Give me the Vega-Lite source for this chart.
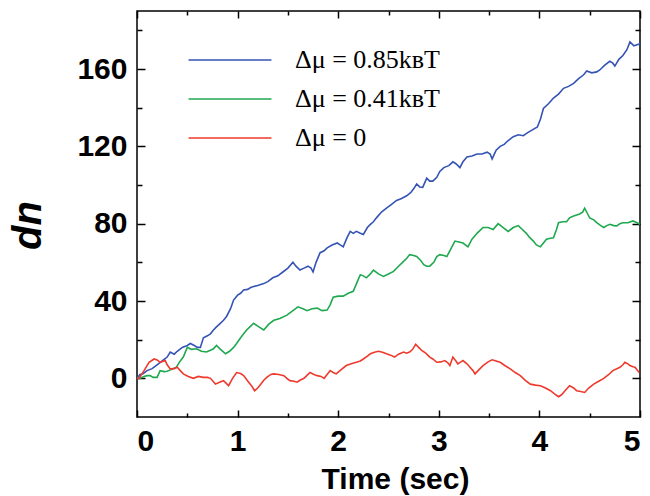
{
"$schema": "https://vega.github.io/schema/vega-lite/v6.json",
"width": 503, "height": 406,
"autosize": {"type": "none"},
"padding": {"left": 137, "top": 11, "right": 10, "bottom": 79},
"background": "white",
"config": {
  "view": {"stroke": "black", "strokeWidth": 1.5},
  "axis": {"domain": false, "grid": false, "tickColor": "black", "tickWidth": 1.5,
    "labelFont": "Liberation Sans", "labelFontWeight": "bold", "labelFontSize": 30, "labelColor": "black",
    "titleFont": "Liberation Sans", "titleFontWeight": "bold", "titleColor": "black"}
},
"data": {"values": [
{"s":"0.85","t":0,"dn":0},{"s":"0.85","t":0.03,"dn":2},{"s":"0.85","t":0.06,"dn":2.4},{"s":"0.85","t":0.1,"dn":4},{"s":"0.85","t":0.15,"dn":5},{"s":"0.85","t":0.2,"dn":7},{"s":"0.85","t":0.25,"dn":9},{"s":"0.85","t":0.3,"dn":11},{"s":"0.85","t":0.33,"dn":13.6},{"s":"0.85","t":0.37,"dn":12.5},{"s":"0.85","t":0.4,"dn":14},{"s":"0.85","t":0.45,"dn":16},{"s":"0.85","t":0.5,"dn":17},{"s":"0.85","t":0.53,"dn":18},{"s":"0.85","t":0.57,"dn":17},{"s":"0.85","t":0.6,"dn":16},{"s":"0.85","t":0.63,"dn":16},{"s":"0.85","t":0.66,"dn":21},{"s":"0.85","t":0.7,"dn":22},{"s":"0.85","t":0.73,"dn":23},{"s":"0.85","t":0.76,"dn":25},{"s":"0.85","t":0.79,"dn":26.6},{"s":"0.85","t":0.82,"dn":28},{"s":"0.85","t":0.86,"dn":30},{"s":"0.85","t":0.89,"dn":32},{"s":"0.85","t":0.93,"dn":36},{"s":"0.85","t":0.96,"dn":40.5},{"s":"0.85","t":1.0,"dn":43},{"s":"0.85","t":1.03,"dn":44},{"s":"0.85","t":1.06,"dn":45.7},{"s":"0.85","t":1.1,"dn":46},{"s":"0.85","t":1.13,"dn":47},{"s":"0.85","t":1.16,"dn":47.5},{"s":"0.85","t":1.2,"dn":48},{"s":"0.85","t":1.23,"dn":48.5},{"s":"0.85","t":1.26,"dn":49},{"s":"0.85","t":1.3,"dn":50},{"s":"0.85","t":1.35,"dn":52},{"s":"0.85","t":1.4,"dn":53},{"s":"0.85","t":1.45,"dn":55},{"s":"0.85","t":1.5,"dn":57},{"s":"0.85","t":1.55,"dn":60},{"s":"0.85","t":1.58,"dn":58},{"s":"0.85","t":1.62,"dn":56},{"s":"0.85","t":1.66,"dn":57},{"s":"0.85","t":1.7,"dn":58},{"s":"0.85","t":1.73,"dn":57},{"s":"0.85","t":1.75,"dn":55},{"s":"0.85","t":1.78,"dn":60},{"s":"0.85","t":1.82,"dn":65},{"s":"0.85","t":1.86,"dn":66},{"s":"0.85","t":1.89,"dn":67.5},{"s":"0.85","t":1.94,"dn":69},{"s":"0.85","t":1.99,"dn":70},{"s":"0.85","t":2.02,"dn":69},{"s":"0.85","t":2.05,"dn":68},{"s":"0.85","t":2.09,"dn":73},{"s":"0.85","t":2.12,"dn":76},{"s":"0.85","t":2.15,"dn":75},{"s":"0.85","t":2.18,"dn":76},{"s":"0.85","t":2.22,"dn":75},{"s":"0.85","t":2.25,"dn":74.4},{"s":"0.85","t":2.29,"dn":78},{"s":"0.85","t":2.32,"dn":79.6},{"s":"0.85","t":2.35,"dn":81},{"s":"0.85","t":2.38,"dn":83},{"s":"0.85","t":2.43,"dn":86},{"s":"0.85","t":2.48,"dn":88},{"s":"0.85","t":2.53,"dn":90},{"s":"0.85","t":2.58,"dn":92},{"s":"0.85","t":2.63,"dn":93},{"s":"0.85","t":2.68,"dn":94.4},{"s":"0.85","t":2.72,"dn":96},{"s":"0.85","t":2.75,"dn":98},{"s":"0.85","t":2.78,"dn":100.5},{"s":"0.85","t":2.81,"dn":99},{"s":"0.85","t":2.84,"dn":98.8},{"s":"0.85","t":2.88,"dn":103.5},{"s":"0.85","t":2.91,"dn":102},{"s":"0.85","t":2.94,"dn":102},{"s":"0.85","t":2.98,"dn":104},{"s":"0.85","t":3.01,"dn":107},{"s":"0.85","t":3.05,"dn":109},{"s":"0.85","t":3.1,"dn":110},{"s":"0.85","t":3.14,"dn":112},{"s":"0.85","t":3.17,"dn":111},{"s":"0.85","t":3.21,"dn":109},{"s":"0.85","t":3.24,"dn":112},{"s":"0.85","t":3.28,"dn":114.5},{"s":"0.85","t":3.33,"dn":115},{"s":"0.85","t":3.38,"dn":116},{"s":"0.85","t":3.43,"dn":116},{"s":"0.85","t":3.48,"dn":117},{"s":"0.85","t":3.51,"dn":116},{"s":"0.85","t":3.53,"dn":113.5},{"s":"0.85","t":3.57,"dn":118},{"s":"0.85","t":3.61,"dn":120},{"s":"0.85","t":3.65,"dn":121},{"s":"0.85","t":3.69,"dn":123},{"s":"0.85","t":3.74,"dn":125},{"s":"0.85","t":3.79,"dn":126},{"s":"0.85","t":3.84,"dn":125.5},{"s":"0.85","t":3.88,"dn":127},{"s":"0.85","t":3.93,"dn":128.5},{"s":"0.85","t":3.98,"dn":130},{"s":"0.85","t":4.01,"dn":134},{"s":"0.85","t":4.04,"dn":139.6},{"s":"0.85","t":4.09,"dn":142},{"s":"0.85","t":4.14,"dn":145},{"s":"0.85","t":4.19,"dn":147},{"s":"0.85","t":4.24,"dn":150},{"s":"0.85","t":4.29,"dn":151},{"s":"0.85","t":4.34,"dn":152.6},{"s":"0.85","t":4.39,"dn":155},{"s":"0.85","t":4.44,"dn":157},{"s":"0.85","t":4.47,"dn":159},{"s":"0.85","t":4.52,"dn":158},{"s":"0.85","t":4.57,"dn":158.5},{"s":"0.85","t":4.6,"dn":159.5},{"s":"0.85","t":4.65,"dn":162},{"s":"0.85","t":4.7,"dn":164},{"s":"0.85","t":4.73,"dn":163},{"s":"0.85","t":4.75,"dn":161.5},{"s":"0.85","t":4.79,"dn":165},{"s":"0.85","t":4.83,"dn":167},{"s":"0.85","t":4.87,"dn":170},{"s":"0.85","t":4.9,"dn":174},{"s":"0.85","t":4.94,"dn":172},{"s":"0.85","t":4.97,"dn":172.5},{"s":"0.85","t":5.0,"dn":173},
{"s":"0.41","t":0,"dn":0},{"s":"0.41","t":0.03,"dn":0},{"s":"0.41","t":0.07,"dn":1},{"s":"0.41","t":0.1,"dn":1.4},{"s":"0.41","t":0.13,"dn":1.4},{"s":"0.41","t":0.16,"dn":0.5},{"s":"0.41","t":0.2,"dn":0.5},{"s":"0.41","t":0.23,"dn":4},{"s":"0.41","t":0.27,"dn":3.5},{"s":"0.41","t":0.3,"dn":3.7},{"s":"0.41","t":0.34,"dn":4.5},{"s":"0.41","t":0.39,"dn":5.7},{"s":"0.41","t":0.43,"dn":9},{"s":"0.41","t":0.46,"dn":11},{"s":"0.41","t":0.5,"dn":16},{"s":"0.41","t":0.54,"dn":15},{"s":"0.41","t":0.59,"dn":15.3},{"s":"0.41","t":0.64,"dn":14},{"s":"0.41","t":0.69,"dn":13.6},{"s":"0.41","t":0.73,"dn":14.5},{"s":"0.41","t":0.76,"dn":15.3},{"s":"0.41","t":0.79,"dn":17},{"s":"0.41","t":0.83,"dn":15},{"s":"0.41","t":0.88,"dn":12.7},{"s":"0.41","t":0.92,"dn":14},{"s":"0.41","t":0.96,"dn":16},{"s":"0.41","t":0.99,"dn":18},{"s":"0.41","t":1.03,"dn":21},{"s":"0.41","t":1.06,"dn":23},{"s":"0.41","t":1.09,"dn":25},{"s":"0.41","t":1.13,"dn":27},{"s":"0.41","t":1.16,"dn":28.5},{"s":"0.41","t":1.2,"dn":27},{"s":"0.41","t":1.26,"dn":25},{"s":"0.41","t":1.31,"dn":28},{"s":"0.41","t":1.36,"dn":30},{"s":"0.41","t":1.42,"dn":31},{"s":"0.41","t":1.49,"dn":32.7},{"s":"0.41","t":1.55,"dn":35},{"s":"0.41","t":1.6,"dn":37},{"s":"0.41","t":1.65,"dn":36},{"s":"0.41","t":1.69,"dn":35},{"s":"0.41","t":1.74,"dn":36},{"s":"0.41","t":1.79,"dn":36.3},{"s":"0.41","t":1.84,"dn":35},{"s":"0.41","t":1.89,"dn":35.3},{"s":"0.41","t":1.92,"dn":38},{"s":"0.41","t":1.95,"dn":42},{"s":"0.41","t":2.0,"dn":42.5},{"s":"0.41","t":2.05,"dn":42.5},{"s":"0.41","t":2.1,"dn":44},{"s":"0.41","t":2.15,"dn":45},{"s":"0.41","t":2.19,"dn":50},{"s":"0.41","t":2.22,"dn":53.6},{"s":"0.41","t":2.25,"dn":53},{"s":"0.41","t":2.28,"dn":52},{"s":"0.41","t":2.32,"dn":54},{"s":"0.41","t":2.35,"dn":56},{"s":"0.41","t":2.4,"dn":54},{"s":"0.41","t":2.45,"dn":52.7},{"s":"0.41","t":2.5,"dn":54},{"s":"0.41","t":2.55,"dn":55.3},{"s":"0.41","t":2.6,"dn":58},{"s":"0.41","t":2.65,"dn":60.5},{"s":"0.41","t":2.68,"dn":62},{"s":"0.41","t":2.71,"dn":64},{"s":"0.41","t":2.75,"dn":63.5},{"s":"0.41","t":2.78,"dn":63},{"s":"0.41","t":2.82,"dn":61},{"s":"0.41","t":2.85,"dn":58.8},{"s":"0.41","t":2.88,"dn":58},{"s":"0.41","t":2.91,"dn":58},{"s":"0.41","t":2.95,"dn":60},{"s":"0.41","t":2.98,"dn":63},{"s":"0.41","t":3.01,"dn":64},{"s":"0.41","t":3.05,"dn":63.5},{"s":"0.41","t":3.08,"dn":63},{"s":"0.41","t":3.12,"dn":67},{"s":"0.41","t":3.16,"dn":71},{"s":"0.41","t":3.2,"dn":70.5},{"s":"0.41","t":3.24,"dn":70},{"s":"0.41","t":3.29,"dn":68},{"s":"0.41","t":3.33,"dn":72},{"s":"0.41","t":3.38,"dn":75},{"s":"0.41","t":3.44,"dn":78},{"s":"0.41","t":3.49,"dn":78},{"s":"0.41","t":3.54,"dn":77},{"s":"0.41","t":3.59,"dn":80},{"s":"0.41","t":3.64,"dn":78},{"s":"0.41","t":3.69,"dn":76},{"s":"0.41","t":3.74,"dn":78},{"s":"0.41","t":3.79,"dn":79},{"s":"0.41","t":3.83,"dn":77},{"s":"0.41","t":3.87,"dn":75},{"s":"0.41","t":3.9,"dn":73},{"s":"0.41","t":3.94,"dn":71},{"s":"0.41","t":3.97,"dn":69},{"s":"0.41","t":4.01,"dn":68},{"s":"0.41","t":4.04,"dn":70},{"s":"0.41","t":4.07,"dn":72},{"s":"0.41","t":4.11,"dn":72.5},{"s":"0.41","t":4.14,"dn":72.7},{"s":"0.41","t":4.17,"dn":77},{"s":"0.41","t":4.19,"dn":80.5},{"s":"0.41","t":4.23,"dn":81},{"s":"0.41","t":4.27,"dn":81},{"s":"0.41","t":4.3,"dn":83},{"s":"0.41","t":4.34,"dn":84},{"s":"0.41","t":4.37,"dn":84.5},{"s":"0.41","t":4.4,"dn":85},{"s":"0.41","t":4.43,"dn":86},{"s":"0.41","t":4.45,"dn":88},{"s":"0.41","t":4.48,"dn":85},{"s":"0.41","t":4.5,"dn":83},{"s":"0.41","t":4.54,"dn":82},{"s":"0.41","t":4.57,"dn":80.5},{"s":"0.41","t":4.61,"dn":79},{"s":"0.41","t":4.64,"dn":78},{"s":"0.41","t":4.67,"dn":79},{"s":"0.41","t":4.7,"dn":79.7},{"s":"0.41","t":4.74,"dn":79},{"s":"0.41","t":4.77,"dn":78.8},{"s":"0.41","t":4.8,"dn":80},{"s":"0.41","t":4.83,"dn":80.5},{"s":"0.41","t":4.88,"dn":80.5},{"s":"0.41","t":4.93,"dn":81.4},{"s":"0.41","t":4.97,"dn":80.5},{"s":"0.41","t":5.0,"dn":79.7},
{"s":"0","t":0,"dn":0},{"s":"0","t":0.02,"dn":0},{"s":"0","t":0.07,"dn":4},{"s":"0","t":0.12,"dn":8.3},{"s":"0","t":0.17,"dn":10},{"s":"0","t":0.2,"dn":9.5},{"s":"0","t":0.23,"dn":8.3},{"s":"0","t":0.28,"dn":9.2},{"s":"0","t":0.3,"dn":7},{"s":"0","t":0.33,"dn":4.9},{"s":"0","t":0.37,"dn":5},{"s":"0","t":0.4,"dn":5.7},{"s":"0","t":0.43,"dn":4},{"s":"0","t":0.46,"dn":2.3},{"s":"0","t":0.51,"dn":1},{"s":"0","t":0.56,"dn":0},{"s":"0","t":0.61,"dn":1},{"s":"0","t":0.66,"dn":0.5},{"s":"0","t":0.7,"dn":0.5},{"s":"0","t":0.73,"dn":0},{"s":"0","t":0.78,"dn":-3},{"s":"0","t":0.82,"dn":-2},{"s":"0","t":0.86,"dn":-1.2},{"s":"0","t":0.91,"dn":-3.8},{"s":"0","t":0.95,"dn":0},{"s":"0","t":0.99,"dn":3},{"s":"0","t":1.03,"dn":2.5},{"s":"0","t":1.06,"dn":1.4},{"s":"0","t":1.11,"dn":-2},{"s":"0","t":1.14,"dn":-4},{"s":"0","t":1.17,"dn":-6.4},{"s":"0","t":1.2,"dn":-5},{"s":"0","t":1.23,"dn":-3},{"s":"0","t":1.26,"dn":-1},{"s":"0","t":1.29,"dn":0.5},{"s":"0","t":1.33,"dn":2},{"s":"0","t":1.36,"dn":2.3},{"s":"0","t":1.41,"dn":2},{"s":"0","t":1.46,"dn":1.4},{"s":"0","t":1.49,"dn":0},{"s":"0","t":1.52,"dn":-1.2},{"s":"0","t":1.56,"dn":-1.5},{"s":"0","t":1.59,"dn":-2},{"s":"0","t":1.62,"dn":-1},{"s":"0","t":1.66,"dn":0},{"s":"0","t":1.69,"dn":1.5},{"s":"0","t":1.72,"dn":3},{"s":"0","t":1.76,"dn":2},{"s":"0","t":1.79,"dn":1.4},{"s":"0","t":1.83,"dn":1},{"s":"0","t":1.86,"dn":0},{"s":"0","t":1.89,"dn":2},{"s":"0","t":1.92,"dn":4},{"s":"0","t":1.95,"dn":3},{"s":"0","t":1.98,"dn":2.3},{"s":"0","t":2.03,"dn":4.5},{"s":"0","t":2.08,"dn":6.6},{"s":"0","t":2.13,"dn":7.5},{"s":"0","t":2.18,"dn":8.3},{"s":"0","t":2.22,"dn":9},{"s":"0","t":2.25,"dn":10},{"s":"0","t":2.29,"dn":11.5},{"s":"0","t":2.32,"dn":12.7},{"s":"0","t":2.36,"dn":13.5},{"s":"0","t":2.4,"dn":14},{"s":"0","t":2.44,"dn":13.5},{"s":"0","t":2.48,"dn":12.7},{"s":"0","t":2.52,"dn":12},{"s":"0","t":2.56,"dn":11},{"s":"0","t":2.6,"dn":12.5},{"s":"0","t":2.65,"dn":13.6},{"s":"0","t":2.68,"dn":13},{"s":"0","t":2.71,"dn":13.6},{"s":"0","t":2.74,"dn":15},{"s":"0","t":2.77,"dn":17.6},{"s":"0","t":2.8,"dn":16},{"s":"0","t":2.83,"dn":14.4},{"s":"0","t":2.87,"dn":13},{"s":"0","t":2.91,"dn":11},{"s":"0","t":2.94,"dn":10},{"s":"0","t":2.98,"dn":8.3},{"s":"0","t":3.02,"dn":8.5},{"s":"0","t":3.06,"dn":9.2},{"s":"0","t":3.09,"dn":8},{"s":"0","t":3.11,"dn":6.6},{"s":"0","t":3.14,"dn":11},{"s":"0","t":3.17,"dn":9},{"s":"0","t":3.19,"dn":7.5},{"s":"0","t":3.22,"dn":8.5},{"s":"0","t":3.24,"dn":9.2},{"s":"0","t":3.28,"dn":7.5},{"s":"0","t":3.31,"dn":5.7},{"s":"0","t":3.34,"dn":4},{"s":"0","t":3.36,"dn":2.3},{"s":"0","t":3.4,"dn":4.5},{"s":"0","t":3.44,"dn":6.6},{"s":"0","t":3.49,"dn":8.5},{"s":"0","t":3.53,"dn":9.6},{"s":"0","t":3.57,"dn":9},{"s":"0","t":3.61,"dn":8.3},{"s":"0","t":3.66,"dn":6.5},{"s":"0","t":3.71,"dn":4.9},{"s":"0","t":3.76,"dn":3},{"s":"0","t":3.81,"dn":1.4},{"s":"0","t":3.86,"dn":-1},{"s":"0","t":3.91,"dn":-3},{"s":"0","t":3.96,"dn":-3.5},{"s":"0","t":4.01,"dn":-3.8},{"s":"0","t":4.06,"dn":-5},{"s":"0","t":4.11,"dn":-6.4},{"s":"0","t":4.15,"dn":-8},{"s":"0","t":4.19,"dn":-9.5},{"s":"0","t":4.22,"dn":-8.5},{"s":"0","t":4.24,"dn":-7.3},{"s":"0","t":4.27,"dn":-5.5},{"s":"0","t":4.3,"dn":-3.8},{"s":"0","t":4.34,"dn":-5},{"s":"0","t":4.37,"dn":-6.4},{"s":"0","t":4.41,"dn":-6.8},{"s":"0","t":4.45,"dn":-7.3},{"s":"0","t":4.49,"dn":-5},{"s":"0","t":4.54,"dn":-3},{"s":"0","t":4.59,"dn":-1.5},{"s":"0","t":4.64,"dn":0},{"s":"0","t":4.69,"dn":2},{"s":"0","t":4.73,"dn":4},{"s":"0","t":4.77,"dn":5},{"s":"0","t":4.8,"dn":5.7},{"s":"0","t":4.83,"dn":7},{"s":"0","t":4.85,"dn":8.3},{"s":"0","t":4.88,"dn":7.5},{"s":"0","t":4.9,"dn":6.6},{"s":"0","t":4.93,"dn":6},{"s":"0","t":4.95,"dn":5.7},{"s":"0","t":4.97,"dn":4.5},{"s":"0","t":4.99,"dn":3}
]},
"layer": [
  {
    "mark": {"type": "line", "opacity": 0},
    "encoding": {
      "x": {"field": "t", "type": "quantitative", "axis": {"orient": "top", "values": [0, 1, 2, 3, 4, 5], "tickSize": -7, "labels": false, "title": null}},
      "y": {"field": "dn", "type": "quantitative", "axis": {"orient": "right", "values": [0, 40, 80, 120, 160], "tickSize": -8, "labels": false, "title": null}}
    }
  },
  {
    "mark": {"type": "line", "opacity": 0},
    "encoding": {
      "x": {"field": "t", "type": "quantitative", "axis": {"orient": "bottom", "values": [0.5, 1.5, 2.5, 3.5, 4.5], "tickSize": -4, "labels": false, "title": null}},
      "y": {"field": "dn", "type": "quantitative", "axis": {"orient": "left", "values": [20, 60, 100, 140, 180], "tickSize": -5, "labels": false, "title": null}}
    }
  },
  {
    "mark": {"type": "line", "opacity": 0},
    "encoding": {
      "x": {"field": "t", "type": "quantitative", "axis": {"orient": "top", "values": [0.5, 1.5, 2.5, 3.5, 4.5], "tickSize": -4, "labels": false, "title": null}},
      "y": {"field": "dn", "type": "quantitative", "axis": {"orient": "right", "values": [20, 60, 100, 140, 180], "tickSize": -5, "labels": false, "title": null}}
    }
  },
  {
    "mark": {"type": "line", "strokeWidth": 1.6},
    "encoding": {
      "x": {"field": "t", "type": "quantitative", "scale": {"domain": [0, 5], "nice": false},
        "axis": {"orient": "bottom", "values": [0, 1, 2, 3, 4, 5], "tickSize": -7, "labelPadding": 16,
          "labelFontSize": 30, "labelFont": "Liberation Sans", "labelFontWeight": "bold",
          "title": "Time (sec)", "titleFontSize": 30, "titleX": 258, "titleY": 47, "titleBaseline": "top"}},
      "y": {"field": "dn", "type": "quantitative", "scale": {"domain": [-20, 190], "nice": false, "zero": false},
        "axis": {"orient": "left", "values": [0, 40, 80, 120, 160], "tickSize": -8, "labelPadding": 18,
          "labelFontSize": 30, "labelFont": "Liberation Sans", "labelFontWeight": "bold",
          "title": "dn", "titleFontSize": 40, "titleFontStyle": "italic", "titleX": -89, "titleY": 214}},
      "color": {"field": "s", "type": "nominal",
        "scale": {"domain": ["0.85", "0.41", "0"], "range": ["#3553b5", "#1fa84f", "#ee3a2e"]},
        "legend": {"orient": "none", "legendX": 80, "legendY": 36, "title": null, "padding": 0,
          "symbolType": "M-4,0H4", "symbolSize": 430, "symbolStrokeWidth": 1.6,
          "labelFont": "Liberation Serif", "labelFontSize": 26, "labelColor": "black", "labelOffset": 52,
          "labelLimit": 400, "rowPadding": 13,
          "labelExpr": "datum.label == '0' ? 'Δμ = 0' : 'Δμ = ' + datum.label + 'kʙT'"}}
    }
  }
],
"resolve": {"axis": {"x": "independent", "y": "independent"}}
}
